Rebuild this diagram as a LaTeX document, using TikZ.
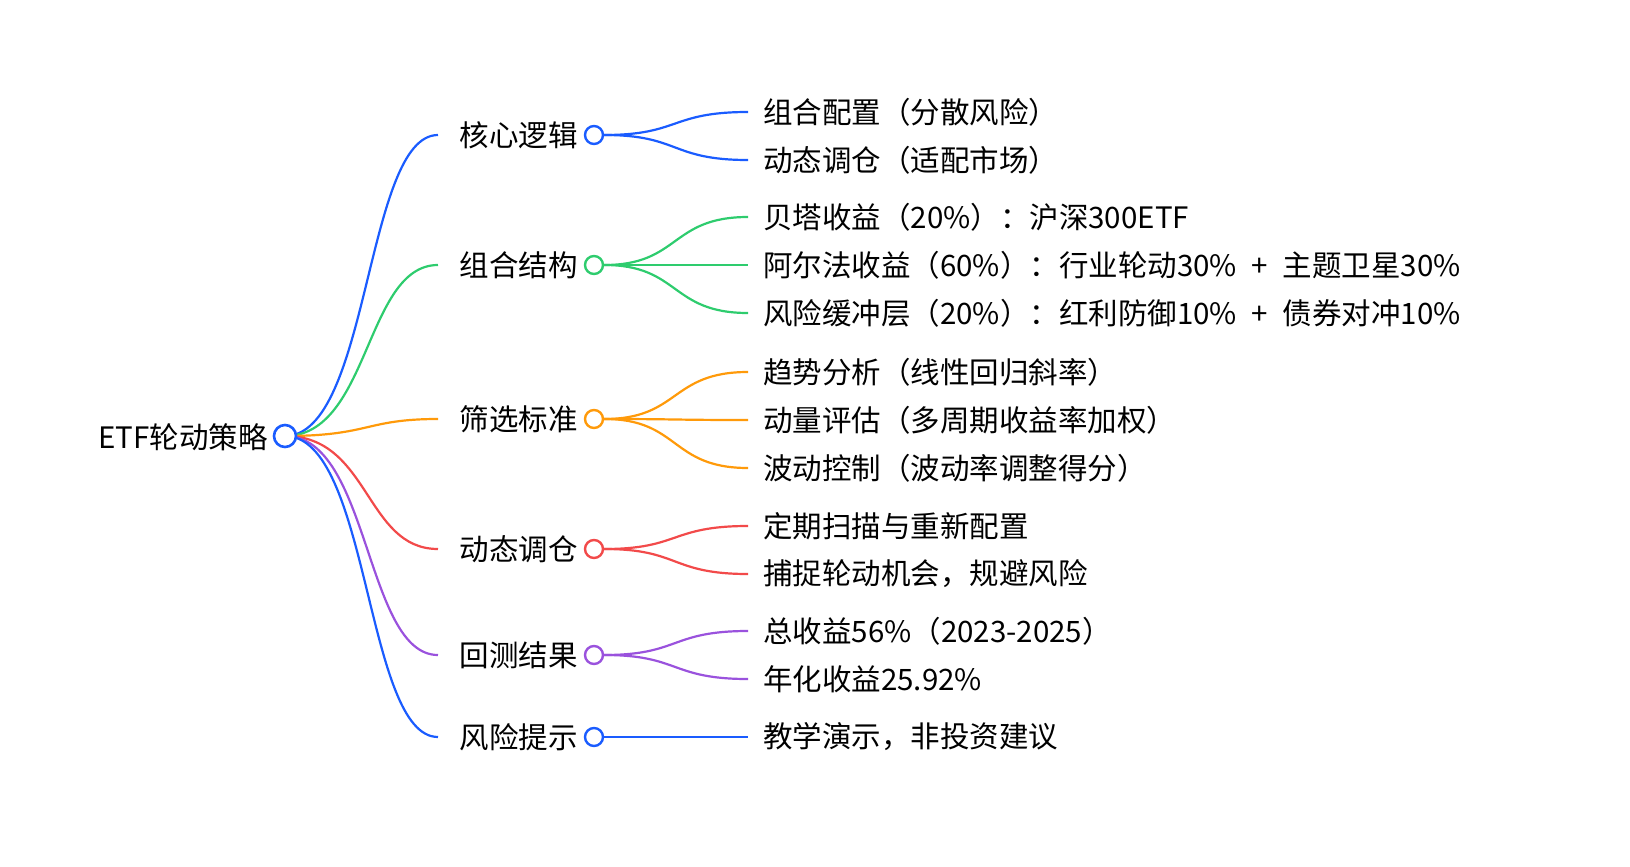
\documentclass[tikz,border=0pt]{standalone}
\usepackage{fontspec}
\setmainfont{Noto Sans CJK SC}
\definecolor{cb}{HTML}{1A5CFF}
\definecolor{cg}{HTML}{2ECC6E}
\definecolor{co}{HTML}{FF9A0A}
\definecolor{cr}{HTML}{F24A4A}
\definecolor{cp}{HTML}{9A52DD}
\tikzset{
 txt/.style={font=\fontsize{29.5}{33}\selectfont, inner sep=0pt},
 br/.style={circle, draw=#1, fill=white, line width=2.4pt, minimum size=18pt, inner sep=0pt},
 ln/.style={draw=#1, line width=2.2pt},
}
\begin{document}
\begin{tikzpicture}[x=1pt,y=-1pt]
\useasboundingbox (0,0) rectangle (1630,867);
\node[txt, anchor=east] (root) at (268,437) {ETF轮动策略};
\coordinate (rc) at (285,436);
\foreach \n/\y/\c/\l in {a/135/cb/核心逻辑, b/265/cg/组合结构, c/419/co/筛选标准, d/549/cr/动态调仓, e/655/cp/回测结果, f/737/cb/风险提示}{
 \coordinate (\n s) at (438,\y);
 \draw[ln=\c] (rc) .. controls (370,436) and (365,\y) .. (\n s);
 \node[txt, anchor=east] (\n l) at (578,\y) {\l};
 \node[br=\c] (\n) at (594,\y) {};
}
\node[circle, draw=cb, fill=white, line width=2.6pt, minimum size=22pt, inner sep=0pt] (rootc) at (rc) {};
\foreach \n/\by/\y/\c/\l [count=\i] in {a/135/112/cb/组合配置（分散风险）, a/135/160/cb/动态调仓（适配市场）,
 b/265/217/cg/贝塔收益（20\%）：沪深300ETF, b/265/265/cg/阿尔法收益（60\%）：行业轮动30\% \;+\; 主题卫星30\%, b/265/313/cg/风险缓冲层（20\%）：红利防御10\% \;+\; 债券对冲10\%,
 c/419/372/co/趋势分析（线性回归斜率）, c/419/420/co/动量评估（多周期收益率加权）, c/419/468/co/波动控制（波动率调整得分）,
 d/549/526/cr/定期扫描与重新配置, d/549/574/cr/捕捉轮动机会，规避风险,
 e/655/631/cp/总收益56\%（2023-2025）, e/655/679/cp/年化收益25.92\%,
 f/737/737/cb/教学演示，非投资建议}{
 \coordinate (le\i) at (748,\y);
 \node[txt, anchor=west] (lf\i) at (763,\y) {\l};
 \draw[ln=\c] (\n.east) .. controls (680,\by) and (670,\y) .. (le\i);
}
\end{tikzpicture}
\end{document}
